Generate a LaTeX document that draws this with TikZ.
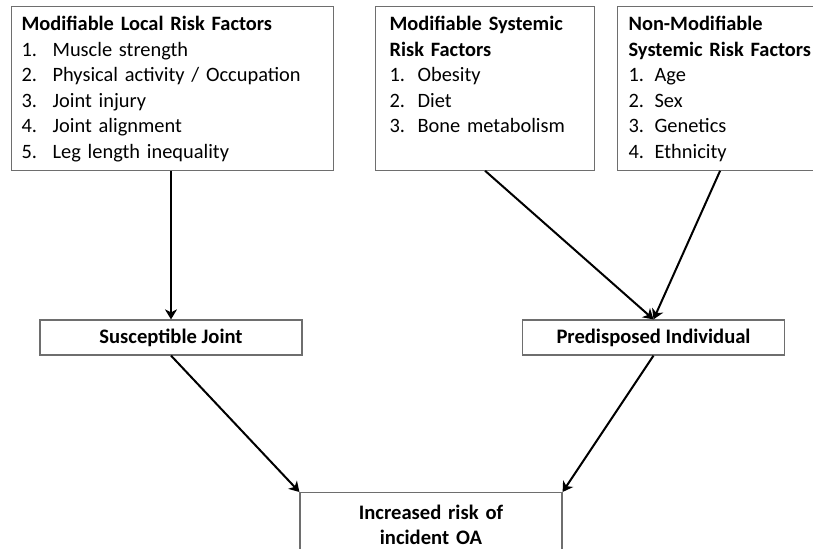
\documentclass[tikz,border=0pt]{standalone}
\usepackage{fontspec}
\setmainfont{Carlito}
\usepackage{tikz}
\usetikzlibrary{arrows.meta, positioning}
\definecolor{boxgray}{RGB}{110, 110, 110}
\newcommand{\itm}[3][14pt]{\makebox[#1][l]{#2}#3}

\begin{document}
\begin{tikzpicture}[
    x=0.5pt, y=-0.5pt,
    every node/.style={font=\fontsize{10.2}{12.75}\selectfont},
    factors/.style={rectangle, draw=boxgray, line width=0.6pt, anchor=north west, align=left, inner ysep=4.6pt, text height=7.6pt, text depth=65pt},
    stage/.style={rectangle, draw=boxgray, line width=0.6pt, minimum width=131pt, minimum height=17.5pt, inner sep=0pt, font=\fontsize{10.3}{12.5}\selectfont\bfseries},
    arrow/.style={-{Stealth[length=5pt, width=6pt, inset=1.5pt]}, line width=1pt, black}
]
    \clip (0,0) rectangle (813,549);

    \node (local) [factors, inner xsep=5pt, text width=151pt] at (11,6) {\textbf{Modifiable Local Risk Factors}\\\itm[15.5pt]{1.}{Muscle strength}\\\itm[15.5pt]{2.}{Physical activity / Occupation}\\\itm[15.5pt]{3.}{Joint injury}\\\itm[15.5pt]{4.}{Joint alignment}\\\itm[15.5pt]{5.}{Leg length inequality}};
    \node (sys) [factors, inner xsep=7pt, text width=95.5pt] at (375,6) {\textbf{Modifiable Systemic}\\\textbf{Risk Factors}\\\itm{1.}{Obesity}\\\itm{2.}{Diet}\\\itm{3.}{Bone metabolism}};
    \node (nonmod) [factors, inner xsep=5.5pt, text width=91.5pt] at (617,6) {\textbf{Non-Modifiable}\\\mbox{\textbf{Systemic Risk Factors}}\\\itm[13pt]{1.}{Age}\\\itm[13pt]{2.}{Sex}\\\itm[13pt]{3.}{Genetics}\\\itm[13pt]{4.}{Ethnicity}};

    \node (joint) [stage] at (171,337.5) {Susceptible Joint};
    \node (indiv) [stage] at (653.5,337.5) {Predisposed Individual};
    \node (risk) [stage, anchor=north, align=center, text width=131pt, minimum height=0pt, inner ysep=5.7pt, text height=7.7pt, text depth=40pt] at (431,492) {Increased risk of\\incident OA};

    \draw [arrow] (joint.north |- local.south) -- (joint.north);
    \draw [arrow] (sys.south) -- (indiv.north);
    \draw [arrow] (nonmod.south) -- (indiv.north);
    \draw [arrow] (joint.south) -- (risk.north west);
    \draw [arrow] (indiv.south) -- (risk.north east);
\end{tikzpicture}
\end{document}
